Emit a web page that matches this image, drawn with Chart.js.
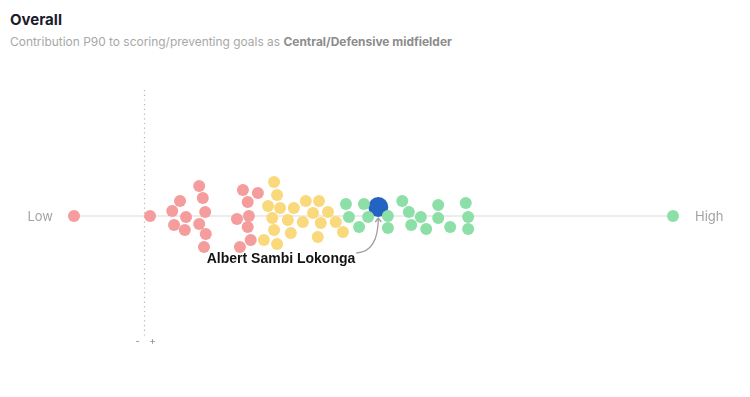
<!DOCTYPE html>
<html>
<head>
<meta charset="utf-8">
<script src="https://cdn.jsdelivr.net/npm/chart.js@4"></script>
<style>
  html, body { margin:0; padding:0; background:#fff; width:750px; height:397px; overflow:hidden; }
  #wrap { position:relative; width:750px; height:397px; }
  .title { position:absolute; left:10px; top:11px; font:700 15px/18px Inter, "Noto Sans", sans-serif; color:#1b1b2a; white-space:nowrap; }
  .sub { position:absolute; left:10px; top:33.5px; font:400 11.95px/16px Inter, "Noto Sans", sans-serif; color:#a8a8a8; white-space:nowrap; }
  .sub b { color:#8c8c8c; font-weight:700; }
  canvas { position:absolute; left:0; top:0; }
</style>
</head>
<body>
<div id="wrap">
  <div class="title">Overall</div>
  <div class="sub">Contribution P90 to scoring/preventing goals as <b>Central/Defensive midfielder</b></div>
  <canvas id="c" width="750" height="397"></canvas>
</div>
<script>
// Percentile position along the axis (0 = Low, 100 = High) and beeswarm offset
const lowX    = [0, 12.7, 17.7, 16.4, 16.7, 18.7, 18.5, 20.9, 21.5, 21.9, 20.9, 22.0, 21.7, 28.2, 30.7, 29.0, 29.2, 27.2, 29.0, 29.5, 27.7];
const lowY    = [0, 0, 15, 5, -9, -1, -14, 30, 18, 4, -8, -18, -31, 26, 23, 14, 0, -3, -11, -24, -31];
const midX    = [33.4, 33.9, 32.4, 34.4, 36.7, 33.1, 35.7, 33.4, 36.2, 31.7, 33.9, 38.7, 40.9, 39.9, 42.4, 38.2, 41.2, 43.7, 40.7, 44.9];
const midY    = [34, 21, 10, 8, 8, -2, -4, -14, -17, -24, -28, 15, 15, 3, 4, -6, -7, -6, -21, -16];
const highX   = [45.4, 48.4, 45.9, 49.1, 47.6, 52.4, 52.4, 54.8, 55.9, 57.9, 56.3, 58.8, 60.8, 60.8, 62.8, 65.4, 65.8, 65.8, 100];
const highY   = [12, 12, -1, -1, -11, 0, -12, 15, 4, -1, -9, -13, 11, -2, -11, 13, -1, -13, 0];
const playerX = [50.8];
const playerY = [9];
const playerName = "Albert Sambi Lokonga";
const axisRange = [0, 100];
const refValue = 11.7;
const axisLabels = ["Low", "High"];
const refLabels = ["-", "+"];

const pts = (xs, ys) => xs.map((v, i) => ({ x: v, y: ys[i] }));

const overlay = {
  id: 'overlay',
  beforeDatasetsDraw(chart) {
    const { ctx, chartArea: a, scales: { x, y } } = chart;
    const y0 = y.getPixelForValue(0);
    const xl = x.getPixelForValue(axisRange[0]);
    const xr = x.getPixelForValue(axisRange[1]);
    ctx.save();
    ctx.strokeStyle = '#ececec';
    ctx.lineWidth = 2;
    ctx.beginPath(); ctx.moveTo(xl, y0); ctx.lineTo(xr, y0); ctx.stroke();

    const rx = Math.round(x.getPixelForValue(refValue)) + 0.5;
    ctx.setLineDash([1.2, 3.5]);
    ctx.strokeStyle = '#b8b8b8';
    ctx.lineWidth = 1.2;
    ctx.beginPath(); ctx.moveTo(rx, a.top + 2); ctx.lineTo(rx, a.bottom - 6); ctx.stroke();
    ctx.setLineDash([]);

    ctx.fillStyle = '#a3a3a3';
    ctx.font = '13px Inter, "Noto Sans", sans-serif';
    ctx.textBaseline = 'middle';
    ctx.textAlign = 'right';
    ctx.fillText(axisLabels[0], xl - 21, y0 + 1);
    ctx.textAlign = 'left';
    ctx.fillText(axisLabels[1], xr + 22, y0 + 1);

    ctx.fillStyle = '#8f8f8f';
    ctx.font = '10px Inter, "Noto Sans", sans-serif';
    ctx.textAlign = 'center';
    ctx.fillText(refLabels[0], rx - 7, a.bottom - 2);
    ctx.fillText(refLabels[1], rx + 8, a.bottom - 3);
    ctx.restore();
  },
  afterDatasetsDraw(chart) {
    const { ctx } = chart;
    const el = chart.getDatasetMeta(3).data[0];
    const px = el.x, py = el.y;
    ctx.save();
    ctx.strokeStyle = '#9e9e9e';
    ctx.lineWidth = 1.3;
    ctx.beginPath();
    ctx.moveTo(px - 22, py + 46);
    ctx.quadraticCurveTo(px, py + 45, px, py + 11);
    ctx.stroke();
    ctx.beginPath();
    ctx.moveTo(px - 3, py + 15);
    ctx.lineTo(px, py + 11);
    ctx.lineTo(px + 3, py + 15);
    ctx.stroke();
    ctx.fillStyle = '#141414';
    ctx.font = 'bold 14px "Liberation Sans", Arial, sans-serif';
    ctx.textAlign = 'right';
    ctx.textBaseline = 'alphabetic';
    ctx.fillText(playerName, px - 23, py + 56);
    ctx.restore();
  }
};

new Chart(document.getElementById('c'), {
  type: 'scatter',
  data: {
    datasets: [
      { data: pts(lowX, lowY), backgroundColor: '#f59c9c', pointRadius: 6, borderWidth: 0, clip: false },
      { data: pts(midX, midY), backgroundColor: '#f9d97b', pointRadius: 6, borderWidth: 0, clip: false },
      { data: pts(highX, highY), backgroundColor: '#8ddfa8', pointRadius: 6, borderWidth: 0, clip: false },
      { data: pts(playerX, playerY), backgroundColor: '#2563c3', pointRadius: 10, borderWidth: 0, clip: false }
    ]
  },
  options: {
    responsive: false,
    animation: false,
    devicePixelRatio: 1,
    layout: { padding: { left: 74, right: 77, top: 88, bottom: 53 } },
    plugins: { legend: { display: false }, tooltip: { enabled: false }, title: { display: false } },
    events: [],
    scales: {
      x: { type: 'linear', min: 0, max: 100, display: false },
      y: { type: 'linear', min: -128, max: 128, display: false }
    }
  },
  plugins: [overlay]
});
</script>
</body>
</html>
